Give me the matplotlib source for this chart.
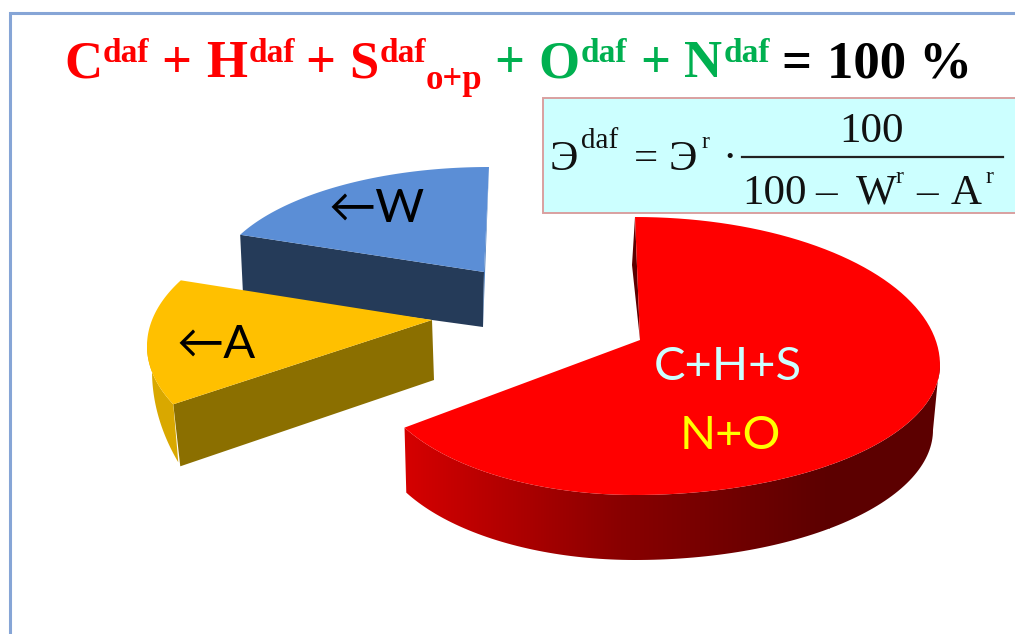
import numpy as np
import matplotlib
matplotlib.use("Agg")
import matplotlib.pyplot as plt
from matplotlib.colors import LinearSegmentedColormap
from matplotlib.patches import Polygon, Rectangle

# Shares of the pie
slices = ["C+H+S N+O", "A", "W"]
shares = [67, 15, 18]

title_parts = ["C", "daf", "+", "H", "daf", "+", "S", "daf", "o+p", "+", "O", "daf", "+", "N", "daf", "=", "100 %"]
title_colors = ["#ff0000"] * 9 + ["#00b050"] * 5 + ["#00b050", "#000000", "#000000"]
label_center_top = "C+H+S"
label_center_bottom = "N+O"
label_ash = "←A"
label_water = "←W"

W, H = 1015, 634
fig = plt.figure(figsize=(W / 100, H / 100), dpi=100)
ax = fig.add_axes([0, 0, 1, 1])
ax.set_xlim(0, W)
ax.set_ylim(H, 0)
ax.axis("off")

SERIF = "Liberation Serif"
SANS = ["Lato", "DejaVu Sans"]


def arc(cx, cy, rx_r, rx_l, ry_t, ry_b, a0, a1, n=120):
    # angles run clockwise from the top of the ellipse
    t = np.radians(np.linspace(a0, a1, n))
    rx = np.where(np.sin(t) >= 0, rx_r, rx_l)
    ry = np.where(np.cos(t) >= 0, ry_t, ry_b)
    return np.column_stack([cx + rx * np.sin(t), cy - ry * np.cos(t)])


def chain(x, y, parts, colors, sizes, shifts, gaps, **kw):
    # puts text pieces one after the other, measuring each one
    rend = fig.canvas.get_renderer()
    for s, c, sz, dy, g in zip(parts, colors, sizes, shifts, gaps):
        x += g
        t = ax.text(x, y + dy, s, color=c, fontsize=sz, ha="left", va="baseline", zorder=10, **kw)
        bb = t.get_window_extent(rend)
        x += bb.width
    return x


edges = np.cumsum([0] + shares) / sum(shares) * 360

# frame
ax.plot([10, 10, W], [H, 13, 13], color="#86a5d6", lw=2.2, solid_joinstyle="miter")

# ---- water slice
a0, a1 = edges[2], edges[3]
top = arc(489, 285, 275, 275, 118, 118, a0, a1)
apex = np.array([484, 272])
ax.add_patch(Polygon([top[0], apex, [483, 327], [243, 294]], fc="#253b59", ec="none", zorder=3))
ax.add_patch(Polygon([top[-1], apex, [483, 327]], fc="#4f7fbd", ec="none", zorder=3))
ax.add_patch(Polygon(np.vstack([top, apex]), fc="#5b8ed6", ec="none", zorder=4))

# ---- ash slice
a0, a1 = edges[1] + 4, edges[2] + 3
top = arc(432, 346, 285, 285, 139, 139, a0, a1)
apex = np.array([432, 320])
ax.add_patch(Polygon([top[0], apex, [434, 380], top[0] + [7, 62]], fc="#8b6f00", ec="none", zorder=5))
side = arc(432, 346, 285, 285, 139, 139, a0, 272)
low = side[::-1] + [5, 58]
low[:, 1] -= np.linspace(36, 0, len(low))
ax.add_patch(Polygon(np.vstack([side, low]), fc="#d9a800", ec="none", zorder=5))
ax.add_patch(Polygon(np.vstack([top, apex]), fc="#ffc000", ec="none", zorder=6))

# ---- main slice
a0, a1 = edges[0], edges[1]
top = arc(635, 365, 305, 263, 148, 130, a0, a1)
apex = np.array([640, 340])
wall_top = arc(635, 365, 305, 263, 148, 130, 88, a1)
wall_low = arc(635, 430, 298, 261, 148, 130, 90, a1)
wall = np.vstack([wall_top, wall_low[::-1]])
cmap = LinearSegmentedColormap.from_list("wall", ["#d60000", "#8a0000", "#5c0000"])
im = ax.imshow(np.linspace(0, 1, 256).reshape(1, -1), extent=[403, 830, 600, 300], cmap=cmap,
               aspect="auto", zorder=7)
im.set_clip_path(Polygon(wall, transform=ax.transData))
# dark end of the wall beyond the gradient
ax.imshow([[1.0]], extent=[829, 945, 600, 300], cmap=cmap, vmin=0, vmax=1, aspect="auto",
          zorder=7).set_clip_path(Polygon(wall, transform=ax.transData))
ax.set_xlim(0, W)
ax.set_ylim(H, 0)
ax.add_patch(Polygon([top[0], [632, 265], apex], fc="#5c0000", ec="none", zorder=7))
ax.add_patch(Polygon(np.vstack([top, apex]), fc="#ff0000", ec="none", zorder=8))

# labels on the slices
ax.text(377, 209, label_water, fontsize=34, family=SANS, color="black", ha="center", va="center", zorder=10)
ax.text(216, 345, label_ash, fontsize=34, family=SANS, color="black", ha="center", va="center", zorder=10)
ax.text(728, 367, label_center_top, fontsize=34, family=SANS, color="#ccffff", ha="center", va="center", zorder=10)
ax.text(730, 436, label_center_bottom, fontsize=34, family=SANS, color="#ffff00", ha="center", va="center", zorder=10)

# title with super and subscripts
sizes = [38, 24, 38, 38, 24, 38, 38, 24, 25, 38, 38, 24, 38, 38, 24, 38, 38]
shifts = [0, -15, 0, 0, -15, 0, 0, -15, 12, 0, 0, -15, 0, 0, -15, 0, 0]
gaps = [0, 1, 12, 15, 1, 10, 14, 1, 0, 12, 14, 1, 13, 14, 1, 12, 15]
chain(64, 77, title_parts, title_colors, sizes, shifts, gaps, family=SERIF, weight="bold")

# formula box
ax.add_patch(Rectangle((543, 98), 480, 115, fc="#ccffff", ec="#d9a0a0", lw=1.4, zorder=9))
chain(550, 170, ["Э", "daf", "=", "Э", "r", "·"], ["#111111"] * 6, [31, 21, 31, 31, 17, 31],
      [0, -22, 0, 0, -22, 0], [0, 3, 15, 11, 4, 13], family=SERIF)
ax.plot([742, 1003], [157, 157], color="#222222", lw=1.6, zorder=10)
ax.text(872, 142, "100", fontsize=31, family=SERIF, color="#111111", ha="center", va="baseline", zorder=10)
chain(742, 204, ["100", "–", "W", "r", "–", "A", "r"], ["#111111"] * 7, [31, 31, 31, 17, 31, 31, 17],
      [0, 0, 0, -21, 0, 0, -21], [0, 9, 19, -1, 13, 12, 4], family=SERIF)

fig.savefig("out.png", dpi=100)
